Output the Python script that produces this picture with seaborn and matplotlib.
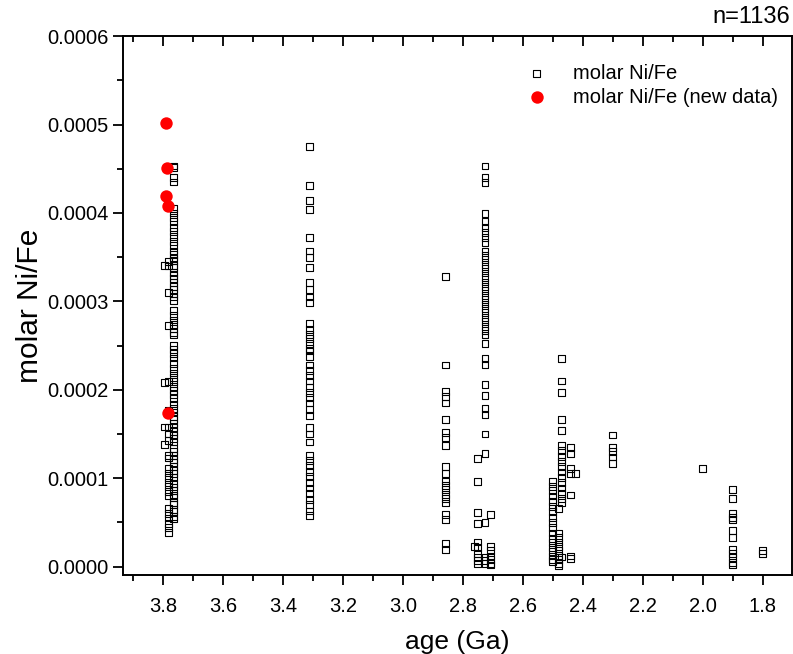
import numpy as np
import pandas as pd
import matplotlib
matplotlib.use('Agg')
import matplotlib.pyplot as plt
import seaborn as sns
from matplotlib.ticker import MultipleLocator, FormatStrFormatter

# molar Ni/Fe values, in units of 1e-4, read per age column (Ga)
ni_376 = [4.53, 4.51, 4.40, 4.35, 4.05, 4.00, 3.95, 3.90, 3.84, 3.79, 3.73, 3.68, 3.63,
          3.57, 3.53, 3.49, 3.46, 3.41, 3.38, 3.33, 3.29, 3.26, 3.21, 3.17, 3.13, 3.09,
          3.05, 3.01, 2.90, 2.84, 2.79, 2.74, 2.69, 2.65, 2.62, 2.50, 2.46, 2.41, 2.36,
          2.30, 2.24, 2.19, 2.14, 2.09, 2.04, 1.99, 1.95, 1.90, 1.84, 1.79, 1.75, 1.70,
          1.66, 1.62, 1.57, 1.53, 1.49, 1.45, 1.41, 1.34, 1.30, 1.26, 1.21, 1.18, 1.13,
          1.09, 1.05, 1.01, 0.94, 0.90, 0.86, 0.81, 0.78, 0.73, 0.70, 0.65, 0.62, 0.57,
          0.54]
ni_378 = [3.45, 3.40, 3.10, 2.73, 2.09, 1.77, 1.58, 1.50, 1.43, 1.26, 1.23, 1.11, 1.06,
          1.01, 0.95, 0.91, 0.85, 0.80, 0.66, 0.60, 0.55, 0.49, 0.44, 0.39]
ni_380 = [3.41, 2.08, 1.58, 1.38]
ni_330 = [4.75, 4.31, 4.14, 4.04, 3.72, 3.57, 3.50, 3.38, 3.21, 3.13, 3.05, 2.99, 2.75,
          2.68, 2.63, 2.58, 2.52, 2.47, 2.44, 2.38, 2.28, 2.22, 2.16, 2.10, 2.03, 1.97,
          1.91, 1.85, 1.78, 1.71, 1.57, 1.50, 1.41, 1.26, 1.20, 1.14, 1.08, 1.02, 0.95,
          0.89, 0.83, 0.76, 0.70, 0.63, 0.58]
ni_285 = [3.28, 2.28, 1.98, 1.92, 1.85, 1.66, 1.52, 1.46, 1.37, 1.13, 1.05, 0.97, 0.92,
          0.87, 0.82, 0.77, 0.72, 0.59, 0.53, 0.26, 0.19]
ni_275 = [1.22, 0.96, 0.61, 0.49, 0.28, 0.22, 0.15, 0.10, 0.07, 0.04]
ni_276 = [0.23]
ni_273 = [4.53, 4.40, 4.34, 3.99, 3.90, 3.84, 3.78, 3.72, 3.67, 3.57, 3.52, 3.47, 3.42,
          3.37, 3.32, 3.27, 3.22, 3.17, 3.12, 3.07, 3.02, 2.97, 2.92, 2.87, 2.82, 2.77,
          2.72, 2.67, 2.62, 2.52, 2.35, 2.29, 2.06, 1.94, 1.79, 1.72, 1.50, 1.28, 0.50,
          0.11, 0.07, 0.04]
ni_270 = [0.59, 0.23, 0.18, 0.12, 0.08, 0.04, 0.02]
ni_250 = [0.96, 0.91, 0.86, 0.80, 0.74, 0.68, 0.62, 0.56, 0.50, 0.44, 0.38, 0.32, 0.27,
          0.22, 0.17, 0.12, 0.08, 0.06]
ni_248 = [0.66, 0.38, 0.33, 0.28, 0.23, 0.18, 0.13, 0.08, 0.04, 0.01]
ni_247 = [2.35, 2.10, 1.97, 1.66, 1.54, 1.37, 1.31, 1.25, 1.19, 1.13, 1.07, 1.01, 0.95,
          0.89, 0.83, 0.77, 0.73, 0.11]
ni_244 = [1.35, 1.28, 1.11, 1.05, 0.81, 0.12, 0.09]
ni_242 = [1.05]
ni_230 = [1.49, 1.35, 1.30, 1.24, 1.17]
ni_200 = [1.11]
ni_190 = [0.87, 0.77, 0.60, 0.56, 0.53, 0.41, 0.33, 0.19, 0.15, 0.10, 0.05, 0.02]
ni_180 = [0.18, 0.15]

columns = {3.765: ni_376, 3.782: ni_378, 3.795: ni_380, 3.31: ni_330, 2.857: ni_285,
           2.75: ni_275, 2.76: ni_276, 2.726: ni_273, 2.707: ni_270, 2.50: ni_250,
           2.48: ni_248, 2.47: ni_247, 2.44: ni_244, 2.425: ni_242, 2.30: ni_230,
           2.00: ni_200, 1.90: ni_190, 1.80: ni_180}

# new data (red)
new_age = [3.79, 3.787, 3.79, 3.782, 3.782]
new_ni = [5.02, 4.51, 4.19, 4.08, 1.74]

frames = [pd.DataFrame({'age': age, 'ni': np.array(v) * 1e-4}) for age, v in columns.items()]
df = pd.concat(frames, ignore_index=True)
df_new = pd.DataFrame({'age': new_age, 'ni': np.array(new_ni) * 1e-4})

sns.set_style('ticks')
plt.rcParams['font.family'] = ['Liberation Sans', 'DejaVu Sans']
for key in ['text.color', 'axes.labelcolor', 'xtick.color', 'ytick.color', 'axes.edgecolor']:
    plt.rcParams[key] = 'black'

fig = plt.figure(figsize=(7.93, 6.54), dpi=100)
ax = fig.add_axes([0.1551, 0.1208, 0.8436, 0.824])

sns.scatterplot(data=df, x='age', y='ni', marker='s', s=24, fc='none', ec='black',
                linewidth=0.8, ax=ax, label='molar Ni/Fe')
sns.scatterplot(data=df_new, x='age', y='ni', marker='o', s=80, color='#ff0000',
                linewidth=0, ax=ax, label='molar Ni/Fe (new data)')

ax.set_xlim(3.933, 1.703)
ax.set_ylim(-0.0000094, 0.0006)
ax.xaxis.set_major_locator(MultipleLocator(0.2))
ax.xaxis.set_minor_locator(MultipleLocator(0.1))
ax.yaxis.set_major_locator(MultipleLocator(0.0001))
ax.yaxis.set_minor_locator(MultipleLocator(0.00005))
ax.xaxis.set_major_formatter(FormatStrFormatter('%.1f'))
ax.yaxis.set_major_formatter(FormatStrFormatter('%.4f'))
ax.tick_params(which='major', direction='out', length=7, width=1.3, labelsize=14.5)
ax.tick_params(which='minor', direction='out', length=4, width=1.3)
ax.tick_params(axis='x', which='major', pad=9)
ax.tick_params(axis='x', which='both', top=True, labeltop=False)
for t in ax.xaxis.get_major_ticks() + ax.xaxis.get_minor_ticks():
    t.tick2line.set_marker(3)  # inward tick on the top frame
for sp in ax.spines.values():
    sp.set_linewidth(1.4)
    sp.set_visible(True)

ax.set_xlabel('age (Ga)', fontsize=19, labelpad=10)
ax.set_ylabel('molar Ni/Fe', fontsize=21.5, labelpad=2)

leg = ax.legend(loc='upper right', frameon=False, fontsize=14.5, borderaxespad=0.3,
                handletextpad=0.8, labelspacing=0.25, bbox_to_anchor=(1.0, 0.975))

fig.text(0.997, 0.957, 'n=1136', ha='right', va='bottom', fontsize=17)

fig.savefig('out.png', dpi=100)
